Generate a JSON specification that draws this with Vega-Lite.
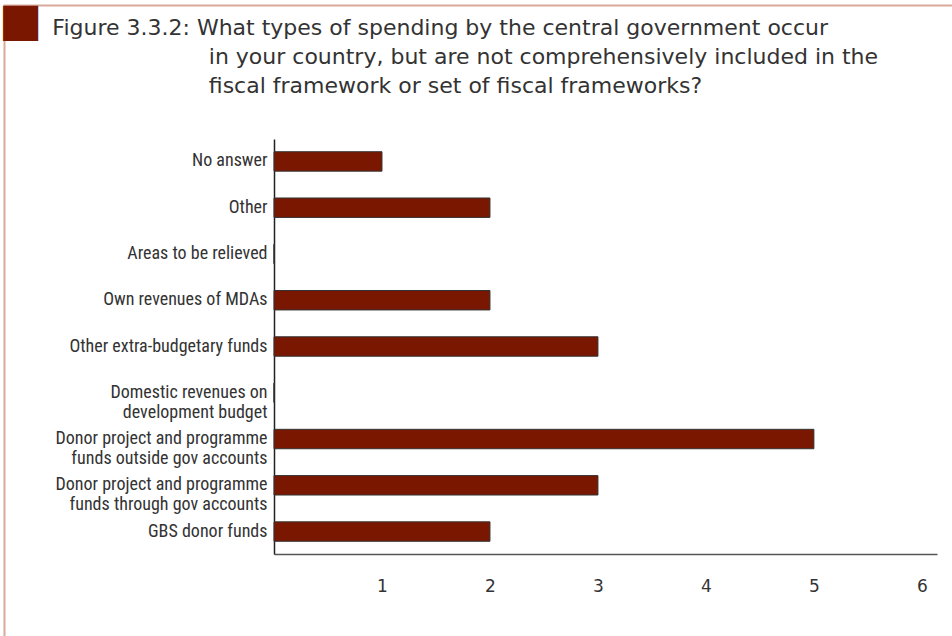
{
  "$schema": "https://vega.github.io/schema/vega-lite/v6.json",
  "width": 663,
  "height": 415,
  "autosize": {"type": "none"},
  "padding": {"left": 274, "top": 139, "right": 15, "bottom": 82},
  "background": "white",
  "config": {"view": {"stroke": null}, "font": "DejaVu Sans"},
  "title": {
    "text": "■",
    "subtitle": [
      "\u200b\u00a0\u00a0\u00a0\u00a0\u00a0\u00a0\u00a0\u2009Figure 3.3.2: What types of spending by the central government occur",
      "\u200b\u00a0\u00a0\u00a0\u00a0\u00a0\u00a0\u00a0\u00a0\u00a0\u00a0\u00a0\u00a0\u00a0\u00a0\u00a0\u00a0\u00a0\u00a0\u00a0\u00a0\u00a0\u00a0\u00a0\u00a0\u00a0\u00a0\u00a0\u00a0\u00a0\u00a0in your country, but are not comprehensively included in the",
      "\u200b\u00a0\u00a0\u00a0\u00a0\u00a0\u00a0\u00a0\u00a0\u00a0\u00a0\u00a0\u00a0\u00a0\u00a0\u00a0\u00a0\u00a0\u00a0\u00a0\u00a0\u00a0\u00a0\u00a0\u00a0\u00a0\u00a0\u00a0\u00a0\u00a0\u00a0fiscal framework or set of fiscal frameworks?"
    ],
    "anchor": "start",
    "frame": "group",
    "dx": -275,
    "fontSize": 46,
    "color": "#7a1700",
    "font": "DejaVu Sans",
    "fontWeight": "normal",
    "subtitleFont": "DejaVu Sans",
    "subtitleFontSize": 22,
    "subtitleColor": "#333333",
    "subtitleLineHeight": 29,
    "subtitlePadding": -27,
    "offset": -96
  },
  "data": {
    "values": [
      {"category": "No answer", "count": 1},
      {"category": "Other", "count": 2},
      {"category": "Areas to be relieved", "count": 0},
      {"category": "Own revenues of MDAs", "count": 2},
      {"category": "Other extra-budgetary funds", "count": 3},
      {"category": "Domestic revenues on|development budget", "count": 0},
      {"category": "Donor project and programme|funds outside gov accounts", "count": 5},
      {"category": "Donor project and programme|funds through gov accounts", "count": 3},
      {"category": "GBS donor funds", "count": 2}
    ]
  },
  "layer": [
    {
      "mark": {"type": "bar", "color": "#7a1700", "stroke": "#333333", "strokeWidth": 1},
      "encoding": {
        "y": {
          "field": "category",
          "type": "nominal",
          "sort": null,
          "scale": {"paddingInner": 0.58, "paddingOuter": 0.275},
          "axis": {
            "title": null,
            "ticks": false,
            "domainColor": "#222222",
            "domainWidth": 1.5,
            "labelFont": "Roboto Condensed",
            "labelFontSize": 18,
            "labelColor": "#333333",
            "labelPadding": 7,
            "labelExpr": "split(datum.value, '|')",
            "labelLineHeight": 20,
            "labelLimit": 300
          }
        },
        "x": {
          "field": "count",
          "type": "quantitative",
          "scale": {"domain": [0, 6.14]},
          "axis": {
            "title": null,
            "values": [1, 2, 3, 4, 5, 6],
            "ticks": false,
            "grid": false,
            "domainColor": "#555555",
            "domainWidth": 1.5,
            "labelFont": "DejaVu Sans",
            "labelFontSize": 17,
            "labelPadding": 24,
            "labelColor": "#333333"
          }
        }
      }
    },
    {
      "mark": {"type": "point", "opacity": 0},
      "encoding": {
        "x": {
          "field": "count",
          "type": "quantitative",
          "scale": {"domain": [0, 1], "range": [-271, 678], "clamp": true},
          "axis": {"orient": "top", "offset": 134, "title": null, "labels": false, "ticks": false, "grid": false, "domainColor": "#d9a898", "domainWidth": 2}
        },
        "y": {
          "field": "count",
          "type": "quantitative",
          "scale": {"domain": [0, 1], "range": [497, -134], "clamp": true},
          "axis": {"orient": "right", "offset": -933, "title": null, "labels": false, "ticks": false, "grid": false, "domainColor": "#d9a898", "domainWidth": 2}
        }
      }
    }
  ],
  "resolve": {"scale": {"x": "independent", "y": "independent"}}
}
